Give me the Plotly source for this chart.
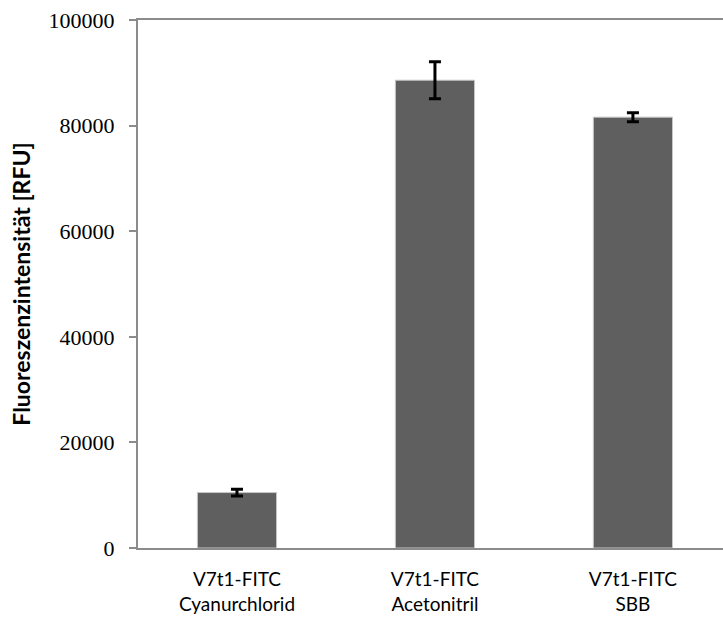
import plotly.graph_objects as go

# Data
categories = ["V7t1-FITC<br>Cyanurchlorid", "V7t1-FITC<br>Acetonitril", "V7t1-FITC<br>SBB"]
values = [10500, 88600, 81600]
errors = [650, 3500, 850]
y_ticks = [0, 20000, 40000, 60000, 80000, 100000]

fig = go.Figure()
fig.add_trace(go.Bar(
    x=categories,
    y=values,
    marker=dict(color="#5f5f5f", line=dict(color="#c8c8c8", width=1)),
    error_y=dict(type="data", array=errors, visible=True,
                 color="black", thickness=3, width=6),
))

fig.update_layout(
    width=723, height=622,
    margin=dict(l=138, r=0, t=20, b=74),
    paper_bgcolor="white", plot_bgcolor="white",
    showlegend=False,
    bargap=0.6,
    xaxis=dict(
        range=[-0.5, 2.455],
        showline=True, linecolor="#8c8c8c", linewidth=2, mirror=True,
        ticks="", showgrid=False,
        ticklabelstandoff=13,
        tickfont=dict(family="Lato", size=19, color="black"),
    ),
    yaxis=dict(
        range=[0, 100000],
        tickvals=y_ticks,
        ticktext=[str(v) for v in y_ticks],
        showline=True, linecolor="#8c8c8c", linewidth=2,
        ticks="outside", ticklen=7, tickwidth=2, tickcolor="#8c8c8c",
        showgrid=False, zeroline=False,
        ticklabelstandoff=10,
        tickfont=dict(family="Liberation Serif", size=22, color="black"),
        title=dict(text="<b>Fluoreszenzintensität [RFU]</b>",
                   font=dict(family="Lato", size=23, color="black"),
                   standoff=12),
    ),
)

fig.write_html("out.html")
